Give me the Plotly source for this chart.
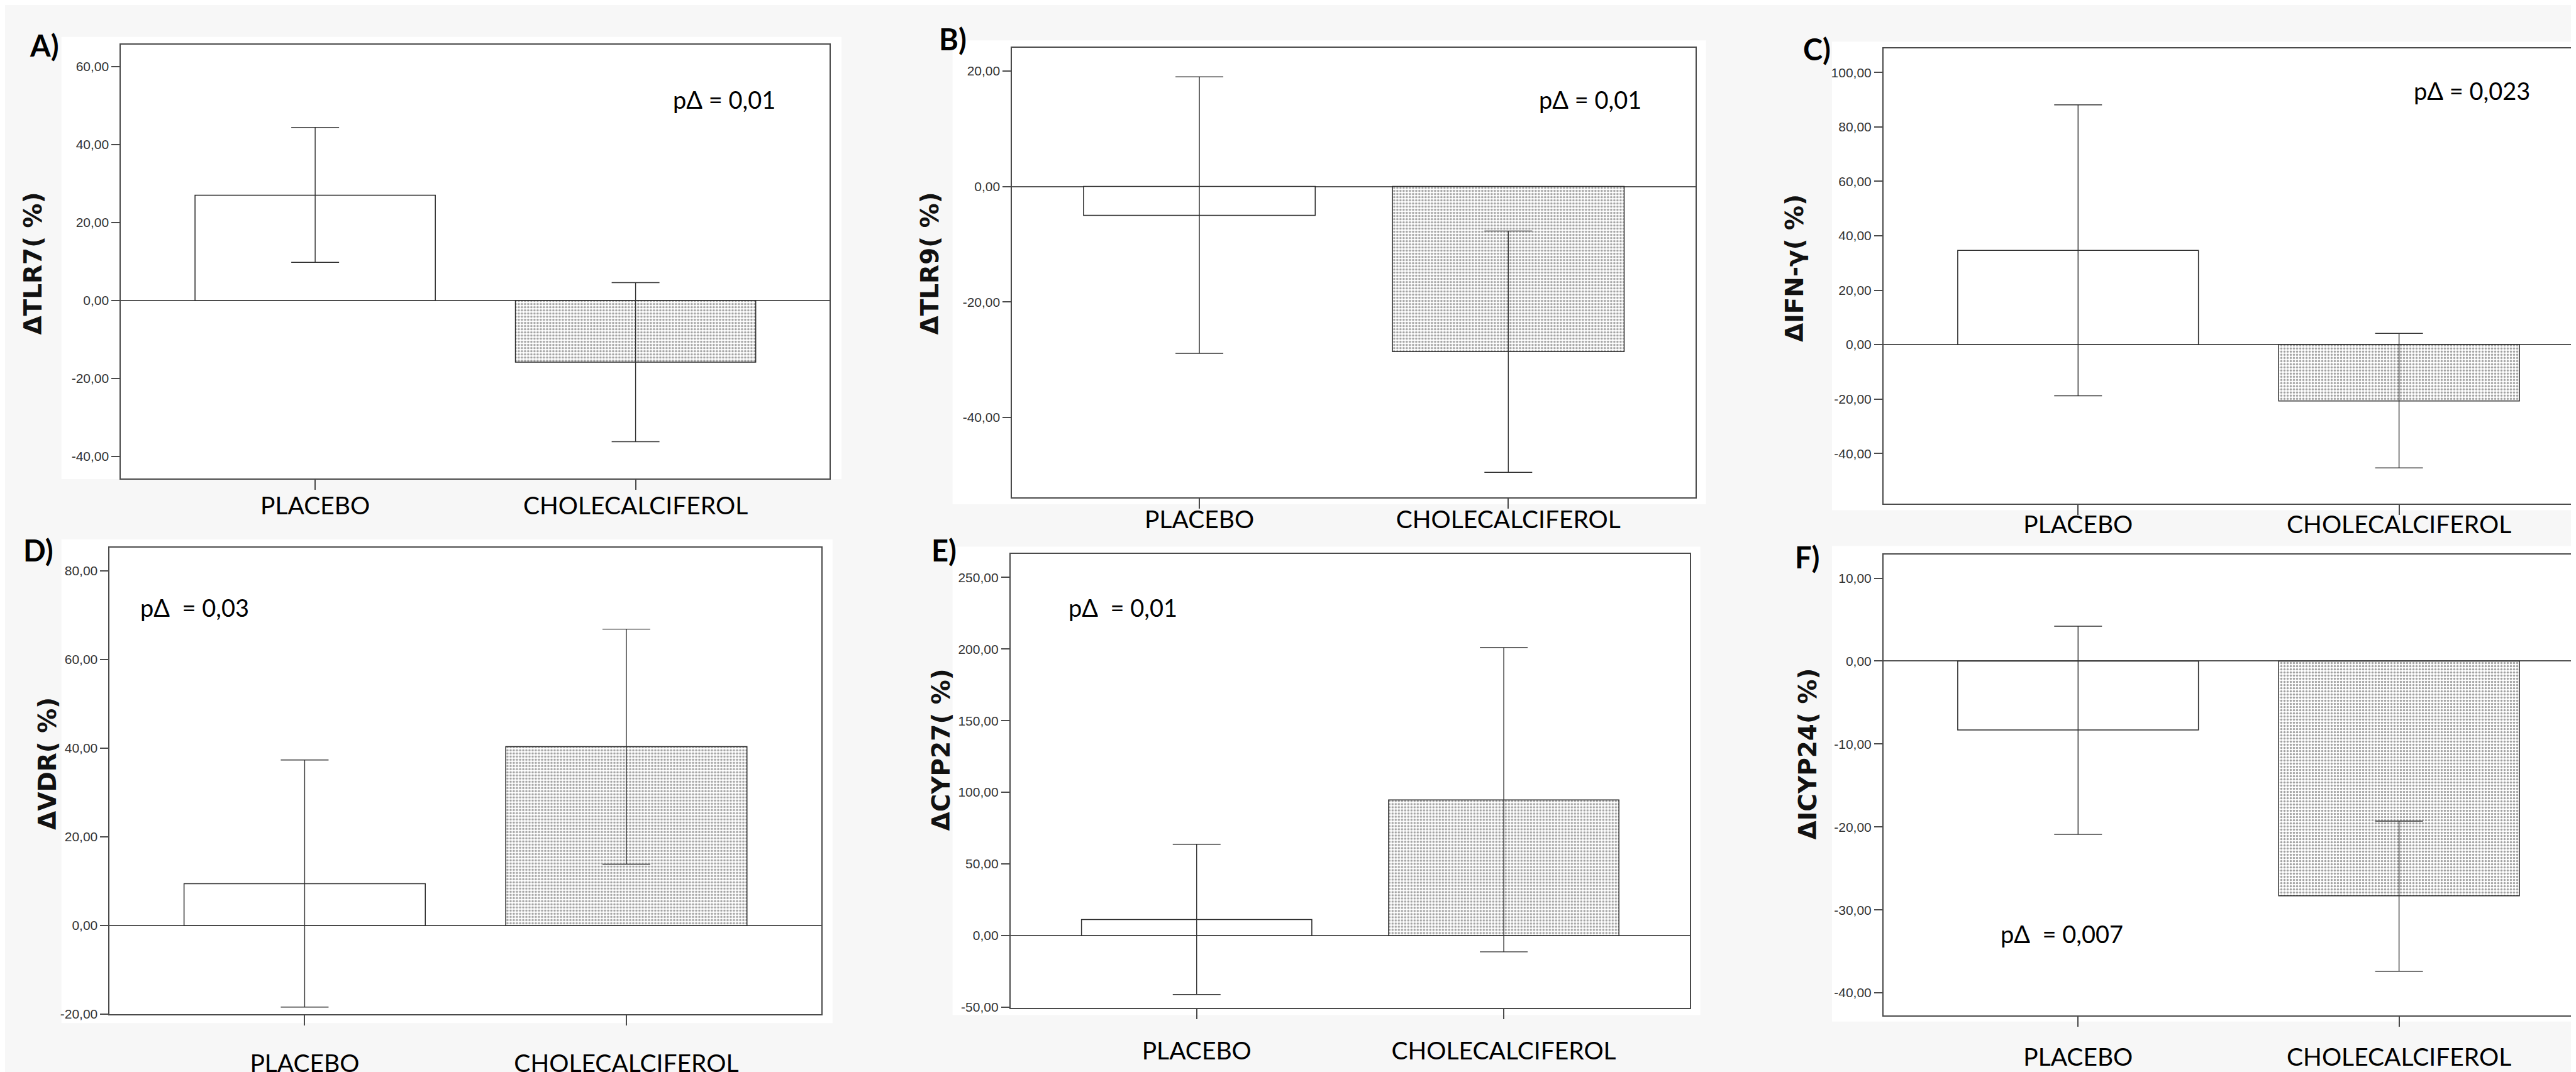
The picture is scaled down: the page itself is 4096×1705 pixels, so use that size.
import plotly.graph_objects as go

# ---------------- data ----------------
categories = ["PLACEBO", "CHOLECALCIFEROL"]

tlr7_mean = [27.0, -15.8]
tlr7_upper = [44.4, 4.6]
tlr7_lower = [9.8, -36.2]

tlr9_mean = [-5.0, -28.6]
tlr9_upper = [19.0, -7.7]
tlr9_lower = [-28.9, -49.5]

ifn_mean = [34.6, -20.7]
ifn_upper = [88.1, 4.1]
ifn_lower = [-18.8, -45.3]

vdr_mean = [9.4, 40.3]
vdr_upper = [37.3, 66.8]
vdr_lower = [-18.4, 13.8]

cyp27_mean = [11.2, 94.7]
cyp27_upper = [63.7, 201.0]
cyp27_lower = [-41.2, -11.4]

cyp24_mean = [-8.3, -28.3]
cyp24_upper = [4.2, -19.3]
cyp24_lower = [-20.9, -37.4]

tlr7_ticks = [60, 40, 20, 0, -20, -40]
tlr7_ticktext = ["60,00", "40,00", "20,00", "0,00", "-20,00", "-40,00"]
tlr9_ticks = [20, 0, -20, -40]
tlr9_ticktext = ["20,00", "0,00", "-20,00", "-40,00"]
ifn_ticks = [100, 80, 60, 40, 20, 0, -20, -40]
ifn_ticktext = ["100,00", "80,00", "60,00", "40,00", "20,00", "0,00", "-20,00", "-40,00"]
vdr_ticks = [80, 60, 40, 20, 0, -20]
vdr_ticktext = ["80,00", "60,00", "40,00", "20,00", "0,00", "-20,00"]
cyp27_ticks = [250, 200, 150, 100, 50, 0, -50]
cyp27_ticktext = ["250,00", "200,00", "150,00", "100,00", "50,00", "0,00", "-50,00"]
cyp24_ticks = [10, 0, -10, -20, -30, -40]
cyp24_ticktext = ["10,00", "0,00", "-10,00", "-20,00", "-30,00", "-40,00"]

panel_letters = ["A)", "B)", "C)", "D)", "E)", "F)"]
y_titles = ["ΔTLR7( %)", "ΔTLR9( %)", "ΔIFN-γ( %)", "ΔVDR( %)", "ΔCYP27( %)", "ΔICYP24( %)"]
p_texts = ["pΔ = 0,01", "pΔ = 0,01", "pΔ = 0,023", "pΔ  = 0,03", "pΔ  = 0,01", "pΔ  = 0,007"]

# ---------------- layout geometry (reference pixel coords, full size) ----------------
W_REF, H_REF = 6397, 2663
W, H = 4096, 1705

def px(x):
    return x / W_REF

def py(y):
    return 1 - y / H_REF

panels = [
    dict(mean=tlr7_mean, up=tlr7_upper, lo=tlr7_lower, ticks=tlr7_ticks, tt=tlr7_ticktext,
         yr=[-45.6, 65.6], box=(288, 2048, 101, 1204), white=(140, 2077, 81, 1206),
         xr=[-0.606, 1.606], mirror_y=True,
         letter=(58, 102), title=(70, 657), ptxt=(1656, 240), standoff=-8),
    dict(mean=tlr9_mean, up=tlr9_upper, lo=tlr9_lower, ticks=tlr9_ticks, tt=tlr9_ticktext,
         yr=[-53.8, 24.0], box=(2501, 4198, 109, 1252), white=(2353, 4224, 90, 1270),
         xr=[-0.606, 1.606], mirror_y=True,
         letter=(2316, 87), title=(2297, 657), ptxt=(3806, 240), standoff=-16),
    dict(mean=ifn_mean, up=ifn_upper, lo=ifn_lower, ticks=ifn_ticks, tt=ifn_ticktext,
         yr=[-58.4, 108.9], box=(4665, 6397, 110, 1268), white=(4537, 6397, 93, 1285),
         xr=[-0.606, 1.567], mirror_y=False,
         letter=(4462, 112), title=(4445, 670), ptxt=(5978, 218), standoff=-18),
    dict(mean=vdr_mean, up=vdr_upper, lo=vdr_lower, ticks=vdr_ticks, tt=vdr_ticktext,
         yr=[-20.0, 85.2], box=(260, 2027, 1380, 2567), white=(140, 2055, 1359, 2590),
         xr=[-0.606, 1.606], mirror_y=True,
         letter=(42, 1387), title=(105, 1930), ptxt=(332, 1532), standoff=27),
    dict(mean=cyp27_mean, up=cyp27_upper, lo=cyp27_lower, ticks=cyp27_ticks, tt=cyp27_ticktext,
         yr=[-50.5, 266.2], box=(2497, 4184, 1397, 2551), white=(2353, 4210, 1378, 2569),
         xr=[-0.606, 1.606], mirror_y=True,
         letter=(2297, 1387), title=(2325, 1895), ptxt=(2638, 1532), standoff=17),
    dict(mean=cyp24_mean, up=cyp24_upper, lo=cyp24_lower, ticks=cyp24_ticks, tt=cyp24_ticktext,
         yr=[-42.76, 12.84], box=(4665, 6397, 1398, 2571), white=(4537, 6397, 1376, 2586),
         xr=[-0.606, 1.567], mirror_y=False,
         letter=(4442, 1405), title=(4476, 1904), ptxt=(4952, 2362), standoff=15),
]

AXIS_COLOR = "#4a4a4a"
TICK_FONT = dict(family="Liberation Sans, Arial, sans-serif", size=21, color="#333333")
CAT_FONT = dict(family="Lato, Open Sans, sans-serif", size=39, color="#000000")

fig = go.Figure()
shapes = []
annotations = []

for i, p in enumerate(panels):
    n = "" if i == 0 else str(i + 1)
    xa = "x" + n
    ya = "y" + n
    err_plus = [u - m for u, m in zip(p["up"], p["mean"])]
    err_minus = [m - l for m, l in zip(p["mean"], p["lo"])]

    fig.add_trace(go.Bar(
        x=categories, y=p["mean"], xaxis=xa, yaxis=ya, width=0.75,
        marker=dict(
            color=["#ffffff", "#ffffff"],
            line=dict(color="#2a2a2a", width=1.5),
            pattern=dict(shape=["", "."], size=5, solidity=0.4,
                         fgcolor="#7a7a7a", bgcolor="#ffffff", fillmode="overlay"),
        ),
        error_y=dict(type="data", symmetric=False, array=err_plus, arrayminus=err_minus,
                     color="#333333", thickness=1.4, width=38),
        showlegend=False, hoverinfo="skip",
    ))

    x0, x1, y0, y1 = p["box"]
    layout_x = dict(
        domain=[px(x0), min(1.0, px(x1))], range=p["xr"], anchor=ya,
        type="category", showline=True, linecolor=AXIS_COLOR, linewidth=2, mirror=True,
        ticks="outside", ticklen=16, tickwidth=2, tickcolor=AXIS_COLOR,
        tickfont=CAT_FONT, showgrid=False, zeroline=False,
        ticklabelstandoff=p["standoff"], fixedrange=True,
    )
    layout_y = dict(
        domain=[py(y1), py(y0)], range=p["yr"], anchor=xa,
        showline=True, linecolor=AXIS_COLOR, linewidth=2, mirror=p["mirror_y"],
        ticks="outside", ticklen=13, tickwidth=2, tickcolor=AXIS_COLOR,
        tickvals=p["ticks"], ticktext=p["tt"], tickfont=TICK_FONT,
        showgrid=False, zeroline=True, zerolinecolor="#555555", zerolinewidth=2,
        fixedrange=True,
    )
    fig.update_layout(**{"xaxis" + n: layout_x, "yaxis" + n: layout_y})

    wx0, wx1, wy0, wy1 = p["white"]
    shapes.append(dict(type="rect", xref="paper", yref="paper", layer="below",
                       x0=px(wx0), x1=px(wx1), y0=py(wy1), y1=py(wy0),
                       fillcolor="#ffffff", line=dict(width=0)))

    lx, ly = p["letter"]
    annotations.append(dict(text="<b>" + panel_letters[i] + "</b>", xref="paper", yref="paper",
                            x=px(lx), y=py(ly), xanchor="left", yanchor="middle", showarrow=False,
                            font=dict(family="Lato, Open Sans, sans-serif", size=47, color="#000000")))
    tx, ty = p["title"]
    annotations.append(dict(text="<b>" + y_titles[i] + "</b>", xref="paper", yref="paper", textangle=-90,
                            x=px(tx), y=py(ty), xanchor="center", yanchor="middle", showarrow=False,
                            font=dict(family="DejaVu Sans, sans-serif", size=39, color="#111111")))
    qx, qy = p["ptxt"]
    annotations.append(dict(text=p_texts[i], xref="paper", yref="paper",
                            x=px(qx), y=py(qy), xanchor="left", yanchor="middle", showarrow=False,
                            font=dict(family="Lato, Open Sans, sans-serif", size=38, color="#000000")))

fig.update_layout(
    width=W, height=H, autosize=False,
    margin=dict(l=0, r=0, t=0, b=0, pad=0),
    paper_bgcolor="#f7f7f7", plot_bgcolor="#ffffff",
    shapes=shapes, annotations=annotations,
    bargap=0.25,
)

fig.write_html("out.html")
